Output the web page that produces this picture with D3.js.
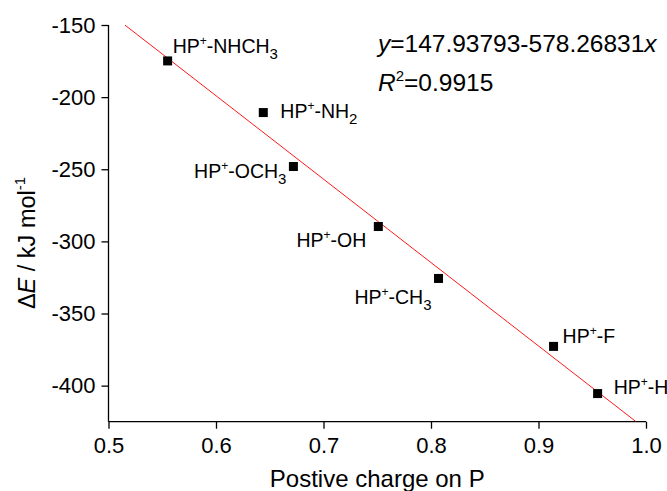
<!DOCTYPE html>
<html>
<head>
<meta charset="utf-8">
<script src="https://cdn.jsdelivr.net/npm/d3@7"></script>
<style>
  body { margin: 0; background: #fff; }
  svg { font-family: "Liberation Sans", Arial, sans-serif; }
</style>
</head>
<body>
<svg id="chart" width="667" height="491"></svg>
<script>
// charge on P, and interaction energy
var charge = [0.555, 0.644, 0.672, 0.751, 0.807, 0.914, 0.955];
var energy = [-174.9, -210.7, -248.1, -289.7, -325.7, -372.8, -405.5];
// substituent names: [main, subscript]
var groups = [['NHCH', '3'], ['NH', '2'], ['OCH', '3'], ['OH', ''], ['CH', '3'], ['F', ''], ['H', '']];
var xTicks = [0.5, 0.6, 0.7, 0.8, 0.9, 1.0];
var yTicks = [-150, -200, -250, -300, -350, -400];
var fitA = 147.93793, fitB = -578.26831, r2 = 0.9915;

// where each label sits next to its point (px offset, anchor)
var labelPos = [[5, -8, 'start'], [17, 5, 'start'], [-7, 11, 'end'], [-12, 20, 'end'],
                [-7, 26, 'end'], [9, -3, 'start'], [16, 0, 'start']];

var svg = d3.select('#chart');
var x = d3.scaleLinear().domain([0.5, 1.0]).range([108.5, 646]);
var y = d3.scaleLinear().domain([-425, -150]).range([421.7, 25]);

// Axes:
var xAxis = svg.append('g').attr('transform', 'translate(0,' + y.range()[0] + ')')
    .call(d3.axisBottom(x).tickValues(xTicks).tickFormat(d3.format('.1f')).tickSizeOuter(0).tickSize(7).tickPadding(9));
var yAxis = svg.append('g').attr('transform', 'translate(' + x.range()[0] + ',0)')
    .call(d3.axisLeft(y).tickValues(yTicks).tickSizeOuter(0).tickSize(7).tickPadding(6)
          .tickFormat((d) => String(d).replace('\u2212', '-')));
svg.selectAll('.domain, .tick line').attr('stroke', '#000').attr('stroke-width', 1.3);
xAxis.selectAll('text').attr('font-size', 22).attr('fill', '#000').attr('font-family', null);
yAxis.selectAll('text').attr('font-size', 22).attr('fill', '#000').attr('font-family', null);
xAxis.select('.domain').attr('d', 'M' + x.range()[0] + ',0H' + x.range()[1]);
yAxis.select('.domain').attr('d', 'M0,' + y.range()[0] + 'V' + y.range()[1]);

// Axis titles:
svg.append('text').attr('x', (x.range()[0] + x.range()[1]) / 2).attr('y', 487)
   .attr('text-anchor', 'middle').attr('font-size', 24).text('Postive charge on P');

var yt = svg.append('text').attr('transform', 'translate(35,' + 243 + ') rotate(-90)')
   .attr('text-anchor', 'middle').attr('font-size', 23.5);
yt.append('tspan').text('\u0394');
yt.append('tspan').attr('font-style', 'italic').text('E');
yt.append('tspan').text(' / kJ mol');
yt.append('tspan').attr('font-size', 15).attr('dy', -10).text('-1');

// Fit line, clipped to plot area:
svg.append('clipPath').attr('id', 'plotclip').append('rect')
   .attr('x', x.range()[0]).attr('y', y.range()[1])
   .attr('width', x.range()[1] - x.range()[0]).attr('height', y.range()[0] - y.range()[1]);
var x0 = (y.domain()[1] - fitA) / fitB, x1 = (y.domain()[0] - fitA) / fitB;
svg.append('line').attr('clip-path', 'url(#plotclip)')
   .attr('x1', x(x0)).attr('y1', y(fitA + fitB * x0))
   .attr('x2', x(x1)).attr('y2', y(fitA + fitB * x1))
   .attr('stroke', '#ff1a1a').attr('stroke-width', 1);

// Points:
var pts = charge.map((c, i) => ({x: c, y: energy[i], g: groups[i], p: labelPos[i]}));
svg.selectAll('rect.pt').data(pts).enter().append('rect').classed('pt', true)
   .attr('x', (d) => x(d.x) - 4.5).attr('y', (d) => y(d.y) - 4.5)
   .attr('width', 9).attr('height', 9).attr('fill', '#000');

// Labels:
var lab = svg.selectAll('text.lab').data(pts).enter().append('text').classed('lab', true)
   .attr('x', (d) => x(d.x) + d.p[0]).attr('y', (d) => y(d.y) + d.p[1])
   .attr('text-anchor', (d) => d.p[2]).attr('font-size', 19.5);
lab.append('tspan').text('HP');
lab.append('tspan').attr('font-size', 12).attr('dy', -8).text('+');
lab.append('tspan').attr('dy', 8).text((d) => '-' + d.g[0]);
lab.filter((d) => d.g[1] !== '').append('tspan').attr('font-size', 15).attr('dy', 6).text((d) => d.g[1]);

// Equation:
var eq = svg.append('text').attr('x', 378).attr('y', 52).attr('font-size', 24.5);
eq.append('tspan').attr('font-style', 'italic').text('y');
eq.append('tspan').text('=' + fitA.toFixed(5) + '-' + (-fitB).toFixed(5));
eq.append('tspan').attr('font-style', 'italic').text('x');
var rr = svg.append('text').attr('x', 378).attr('y', 91).attr('font-size', 24.5);
rr.append('tspan').attr('font-style', 'italic').text('R');
rr.append('tspan').attr('font-size', 15).attr('dy', -10).text('2');
rr.append('tspan').attr('dy', 10).text('=' + r2);
</script>
</body>
</html>
